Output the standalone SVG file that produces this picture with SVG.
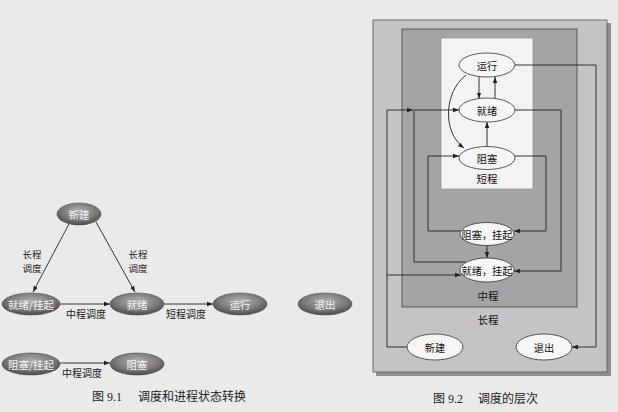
<svg xmlns="http://www.w3.org/2000/svg" width="618" height="412" viewBox="0 0 618 412">
  <defs>
    <radialGradient id="ballGrad" cx="50%" cy="38%" r="62%">
      <stop offset="0" stop-color="#b4b4b4"/>
      <stop offset="0.65" stop-color="#787878"/>
      <stop offset="1" stop-color="#4a4a4a"/>
    </radialGradient>
    <marker id="arrow" viewBox="0 0 10 10" refX="10" refY="5" markerWidth="6" markerHeight="6" orient="auto" markerUnits="userSpaceOnUse">
      <path d="M0,1.2 L10,5 L0,8.8 z" fill="#222"/>
    </marker>
  </defs>
  <style>
    .page{fill:#eaeaea}
    .ball{fill:url(#ballGrad);stroke:#555;stroke-width:0.6}
    .ballText{font-family:"Noto Sans CJK SC",sans-serif;font-size:10.5px;fill:#f4f4f4;text-anchor:middle;dominant-baseline:central}
    .lbl{font-family:"Noto Sans CJK SC",sans-serif;font-size:10px;fill:#222;text-anchor:middle;dominant-baseline:central}
    .lblSmall{font-family:"Noto Sans CJK SC",sans-serif;font-size:9.5px;fill:#222;text-anchor:middle;dominant-baseline:central}
    .cap{font-family:"Liberation Serif","Noto Sans CJK SC",serif;font-size:12px;fill:#222;dominant-baseline:central}
    .wire{fill:none;stroke:#222;stroke-width:0.9}
    .oval{fill:#f6f6f6;stroke:#333;stroke-width:0.8}
    .ovalText{font-family:"Noto Sans CJK SC",sans-serif;font-size:10.2px;fill:#111;text-anchor:middle;dominant-baseline:central}
    .tier{font-family:"Noto Sans CJK SC",sans-serif;font-size:10.5px;fill:#111;text-anchor:middle;dominant-baseline:central}
  </style>

  <rect class="page" x="0" y="0" width="618" height="412"/>

  <!-- ===== Fig 9.1: scheduling and state transitions ===== -->
  <g id="fig91-connectors">
    <line class="wire" x1="70" y1="222" x2="33" y2="292" marker-end="url(#arrow)"/>
    <line class="wire" x1="96" y1="222" x2="135" y2="292" marker-end="url(#arrow)"/>
    <line class="wire" x1="60" y1="304" x2="110" y2="304" marker-end="url(#arrow)"/>
    <line class="wire" x1="164" y1="304" x2="213" y2="304" marker-end="url(#arrow)"/>
    <line class="wire" x1="60" y1="363" x2="110" y2="363" marker-end="url(#arrow)"/>
    <text class="lblSmall" x="32" y="254">长程</text>
    <text class="lblSmall" x="32" y="268">调度</text>
    <text class="lblSmall" x="138" y="254">长程</text>
    <text class="lblSmall" x="138" y="268">调度</text>
    <text class="lbl" x="86" y="313">中程调度</text>
    <text class="lbl" x="186" y="313">短程调度</text>
    <text class="lbl" x="82" y="372">中程调度</text>
  </g>

  <g id="n-new">
    <ellipse class="ball" cx="79" cy="214" rx="22" ry="11"/>
    <text class="ballText" x="79" y="214">新建</text>
  </g>
  <g id="n-readysusp">
    <ellipse class="ball" cx="31" cy="304" rx="29" ry="11"/>
    <text class="ballText" x="31" y="304">就绪/挂起</text>
  </g>
  <g id="n-ready">
    <ellipse class="ball" cx="137" cy="304" rx="27" ry="11"/>
    <text class="ballText" x="137" y="304">就绪</text>
  </g>
  <g id="n-run">
    <ellipse class="ball" cx="240" cy="304" rx="27" ry="11"/>
    <text class="ballText" x="240" y="304">运行</text>
  </g>
  <g id="n-exit">
    <ellipse class="ball" cx="325" cy="304" rx="27" ry="11"/>
    <text class="ballText" x="325" y="304">退出</text>
  </g>
  <g id="n-blocksusp">
    <ellipse class="ball" cx="31" cy="364" rx="29" ry="11"/>
    <text class="ballText" x="31" y="364">阻塞/挂起</text>
  </g>
  <g id="n-block">
    <ellipse class="ball" cx="137" cy="364" rx="27" ry="11"/>
    <text class="ballText" x="137" y="364">阻塞</text>
  </g>

  <text class="cap" x="92" y="397">图 9.1</text>
  <text class="cap" x="138" y="397">调度和进程状态转换</text>

  <!-- ===== Fig 9.2: levels of scheduling ===== -->
  <g id="tier-long">
    <rect x="376" y="23" width="235" height="353" fill="#8e8e8e"/>
    <rect x="373" y="20" width="234" height="352" fill="#c4c4c4" stroke="#555" stroke-width="0.8"/>
    <text class="tier" x="488" y="319">长程</text>
  </g>
  <g id="tier-medium">
    <rect x="402" y="29" width="175" height="278" fill="#a4a4a4" stroke="#444" stroke-width="0.8"/>
    <text class="tier" x="488" y="295">中程</text>
  </g>
  <g id="tier-short">
    <rect x="441" y="38" width="92" height="151" fill="#f3f3f3" stroke="#888" stroke-width="0.6"/>
    <text class="tier" x="487" y="178">短程</text>
  </g>

  <g id="fig92-connectors">
    <!-- run <-> ready -->
    <line class="wire" x1="479" y1="77" x2="479" y2="98.5" marker-end="url(#arrow)"/>
    <line class="wire" x1="495" y1="98.5" x2="495" y2="77" marker-end="url(#arrow)"/>
    <!-- run -> blocked -->
    <path class="wire" d="M466,75 C444,92 442,132 464,148" marker-end="url(#arrow)"/>
    <!-- blocked -> ready -->
    <line class="wire" x1="487" y1="147" x2="487" y2="122" marker-end="url(#arrow)"/>
    <!-- run -> exit -->
    <polyline class="wire" points="515,65 596,65 596,347 572,347" marker-end="url(#arrow)"/>
    <!-- ready -> ready/suspend -->
    <polyline class="wire" points="515,110 561,110 561,271 514,271" marker-end="url(#arrow)"/>
    <!-- blocked -> blocked/suspend -->
    <polyline class="wire" points="514,156 546,156 546,231 514,231" marker-end="url(#arrow)"/>
    <!-- blocked/suspend -> blocked -->
    <polyline class="wire" points="461,231 428,231 428,156 459,156" marker-end="url(#arrow)"/>
    <!-- blocked/suspend -> ready/suspend -->
    <line class="wire" x1="487" y1="245" x2="487" y2="258" marker-end="url(#arrow)"/>
    <!-- ready/suspend -> ready -->
    <polyline class="wire" points="466,262 414,262 414,110 459,110" marker-end="url(#arrow)"/>
    <!-- new -> ready / ready/suspend -->
    <polyline class="wire" points="408,347 387,347 387,110 413,110" marker-end="url(#arrow)"/>
    <line class="wire" x1="387" y1="275" x2="461" y2="275" marker-end="url(#arrow)"/>
  </g>

  <g id="h-run">
    <ellipse class="oval" cx="487" cy="65" rx="28" ry="12"/>
    <text class="ovalText" x="487" y="65">运行</text>
  </g>
  <g id="h-ready">
    <ellipse class="oval" cx="487" cy="110" rx="28" ry="12"/>
    <text class="ovalText" x="487" y="110">就绪</text>
  </g>
  <g id="h-block">
    <ellipse class="oval" cx="487" cy="158" rx="28" ry="11.5"/>
    <text class="ovalText" x="487" y="158">阻塞</text>
  </g>
  <g id="h-blocksusp">
    <ellipse class="oval" cx="487" cy="234" rx="27" ry="11.5"/>
    <text class="ovalText" x="487" y="234">阻塞，挂起</text>
  </g>
  <g id="h-readysusp">
    <ellipse class="oval" cx="487" cy="270" rx="27" ry="12"/>
    <text class="ovalText" x="487" y="270">就绪，挂起</text>
  </g>
  <g id="h-new">
    <ellipse class="oval" cx="435" cy="347" rx="28" ry="13"/>
    <text class="ovalText" x="435" y="347">新建</text>
  </g>
  <g id="h-exit">
    <ellipse class="oval" cx="544" cy="347" rx="28" ry="13"/>
    <text class="ovalText" x="544" y="347">退出</text>
  </g>

  <text class="cap" x="433" y="399">图 9.2</text>
  <text class="cap" x="478" y="399">调度的层次</text>
</svg>
